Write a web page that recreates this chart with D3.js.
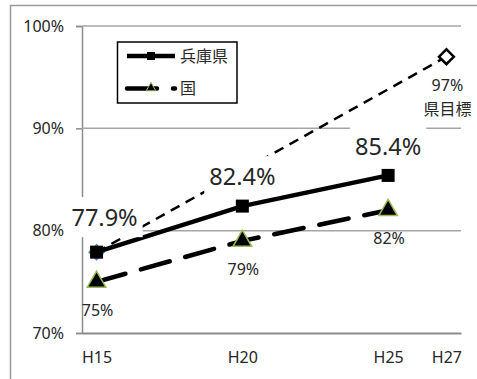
<!DOCTYPE html>
<html>
<head>
<meta charset="utf-8">
<script src="https://cdn.jsdelivr.net/npm/d3@7"></script>
<style>
  html, body { margin: 0; padding: 0; background: #fff; }
  svg { display: block; font-family: "Noto Sans", "Noto Sans CJK JP", sans-serif; }
</style>
</head>
<body>
<svg id="chart" width="477" height="379"></svg>
<script>
// Years (Heisei) on the category axis and their tick labels
const years = [15, 20, 25, 27];
const yearLabels = ["H15", "H20", "H25", "H27"];

// Series values (%)
const hyogoYears = [15, 20, 25];
const hyogo = [77.9, 82.4, 85.4];
const nationalYears = [15, 20, 25];
const national = [75, 79, 82];
const targetYears = [15, 27];
const target = [77.9, 97];

// Value axis ticks
const yTicks = [70, 80, 90, 100];
const seriesNames = ["兵庫県", "国"];
const targetCaption = "県目標";

const svg = d3.select("#chart");
const W = 477, H = 379;
const plot = { left: 82, right: 461, top: 26, bottom: 333 };

const x = d3.scaleLinear().domain([14.5, 27.5]).range([plot.left, plot.right]);
const y = d3.scaleLinear().domain([70, 100]).range([plot.bottom, plot.top]);

const ink = "#262626";

// Outer chart frame (runs off the right and bottom edges)
svg.append("path")
  .attr("d", `M10.5,${H + 2} V5.5 H${W + 2}`)
  .attr("fill", "none").attr("stroke", "#9a9a9a").attr("stroke-width", 1.5);

// Value axis with tick labels
const yAxis = d3.axisLeft(y).tickValues(yTicks).tickSize(6).tickPadding(12)
  .tickFormat(d => d + "%");
const gy = svg.append("g").attr("transform", `translate(${plot.left},0)`).call(yAxis);
gy.select(".domain").attr("stroke", "#8c8c8c").attr("stroke-width", 1.5);
gy.selectAll(".tick line").attr("stroke", "#8c8c8c").attr("stroke-width", 1.5);
gy.selectAll(".tick text").attr("fill", ink).style("font-size", "16px")
  .style("font-family", "'Noto Sans', sans-serif");

// Horizontal gridlines
svg.append("g").selectAll("line").data(yTicks.filter(t => t > 70)).join("line")
  .attr("x1", plot.left).attr("x2", plot.right)
  .attr("y1", d => y(d)).attr("y2", d => y(d))
  .attr("stroke", "#a6a6a6").attr("stroke-width", 1.5);

// Category axis
const xAxis = d3.axisBottom(x).tickValues(years).tickSize(0).tickPadding(19)
  .tickFormat((d, i) => yearLabels[i]);
const gx = svg.append("g").attr("transform", `translate(0,${plot.bottom})`).call(xAxis);
gx.select(".domain").attr("stroke", "#8c8c8c").attr("stroke-width", 2);
gx.selectAll(".tick text").attr("fill", ink).style("font-size", "16px")
  .style("font-family", "'Noto Sans', sans-serif");

const line = d3.line().x(d => x(d[0])).y(d => y(d[1]));
const zip = (a, b) => a.map((v, i) => [v, b[i]]);

// Target line (dashed) with hollow diamonds
const targetPts = zip(targetYears, target);
svg.append("path").datum(targetPts).attr("d", line)
  .attr("fill", "none").attr("stroke", "#000").attr("stroke-width", 2.5)
  .attr("stroke-dasharray", "10,7");
const diamond = d3.symbol().type(d3.symbolSquare).size(110);
svg.append("g").selectAll("path").data(targetPts).join("path")
  .attr("d", diamond)
  .attr("transform", d => `translate(${x(d[0])},${y(d[1])}) rotate(45)`)
  .attr("fill", "#fff")
  .attr("stroke", (d, i) => i === 0 ? "#4f81bd" : "#000")
  .attr("stroke-width", (d, i) => i === 0 ? 1.5 : 2.5);

// National line (long dashes) with triangles
const natPts = zip(nationalYears, national);
svg.append("path").datum(natPts).attr("d", line)
  .attr("fill", "none").attr("stroke", "#000").attr("stroke-width", 4.5)
  .attr("stroke-linecap", "round").attr("stroke-dasharray", "30,16");
const tri = d3.symbol().type(d3.symbolTriangle).size(150);
svg.append("g").selectAll("path").data(natPts).join("path")
  .attr("d", tri)
  .attr("transform", d => `translate(${x(d[0])},${y(d[1])})`)
  .attr("fill", "#000").attr("stroke", "#9bbb59").attr("stroke-width", 1.5);

// Hyogo line (solid) with squares
const hyPts = zip(hyogoYears, hyogo);
svg.append("path").datum(hyPts).attr("d", line)
  .attr("fill", "none").attr("stroke", "#000").attr("stroke-width", 4.5);
svg.append("g").selectAll("rect").data(hyPts).join("rect")
  .attr("x", d => x(d[0]) - 6.5).attr("y", d => y(d[1]) - 6.5)
  .attr("width", 13).attr("height", 13).attr("fill", "#000");

// Data labels
const labels = svg.append("g").attr("text-anchor", "middle").attr("fill", ink);

// Hyogo labels sit in white boxes
const hyOffsets = [[8, -26], [0, -21], [0, -20.5]];
hyPts.forEach((d, i) => {
  const g = labels.append("g");
  const t = g.append("text")
    .attr("x", x(d[0]) + hyOffsets[i][0]).attr("y", y(d[1]) + hyOffsets[i][1])
    .style("font-size", "23.5px").text(d3.format(".1f")(d[1]) + "%");
  const bb = t.node().getBBox();
  g.insert("rect", "text")
    .attr("x", bb.x - 5).attr("y", bb.y - 4)
    .attr("width", bb.width + 10).attr("height", bb.height + 8)
    .attr("fill", "#fff");
});

natPts.forEach(d => {
  labels.append("text")
    .attr("x", x(d[0]) + 1).attr("y", y(d[1]) + 34)
    .style("font-size", "16px").text(d[1] + "%");
});

// Two-line label at the target end point
const tEnd = targetPts[targetPts.length - 1];
const tLabel = labels.append("text")
  .attr("x", x(tEnd[0]) + 1).attr("y", y(tEnd[1]) + 34.5)
  .style("font-size", "16px");
tLabel.append("tspan").attr("x", x(tEnd[0]) + 1).text(tEnd[1] + "%");
tLabel.append("tspan").attr("x", x(tEnd[0]) + 1).attr("dy", 23.5)
  .style("font-family", "'Noto Sans CJK JP', sans-serif").text(targetCaption);

// Legend
const lg = svg.append("g");
lg.append("rect").attr("x", 117.5).attr("y", 42).attr("width", 119.5).attr("height", 61)
  .attr("fill", "#fff").attr("stroke", "#000").attr("stroke-width", 1.5);
const rows = [56, 88.5];
lg.append("line").attr("x1", 127).attr("x2", 175).attr("y1", rows[0]).attr("y2", rows[0])
  .attr("stroke", "#000").attr("stroke-width", 4.5);
lg.append("rect").attr("x", 147).attr("y", rows[0] - 4).attr("width", 8).attr("height", 8)
  .attr("fill", "#000");
lg.append("line").attr("x1", 127).attr("x2", 175).attr("y1", rows[1]).attr("y2", rows[1])
  .attr("stroke", "#000").attr("stroke-width", 4.5)
  .attr("stroke-linecap", "round").attr("stroke-dasharray", "30,16");
lg.append("path").attr("d", d3.symbol().type(d3.symbolTriangle).size(40))
  .attr("transform", `translate(151,${rows[1] - 0.5})`)
  .attr("fill", "#000").attr("stroke", "#9bbb59").attr("stroke-width", 1);
lg.selectAll("text.name").data(seriesNames).join("text")
  .attr("class", "name")
  .attr("x", 180).attr("y", (d, i) => rows[i]).attr("dy", "0.35em")
  .attr("fill", ink).style("font-size", "16px")
  .style("font-family", "'Noto Sans CJK JP', sans-serif")
  .text(d => d);
</script>
</body>
</html>
